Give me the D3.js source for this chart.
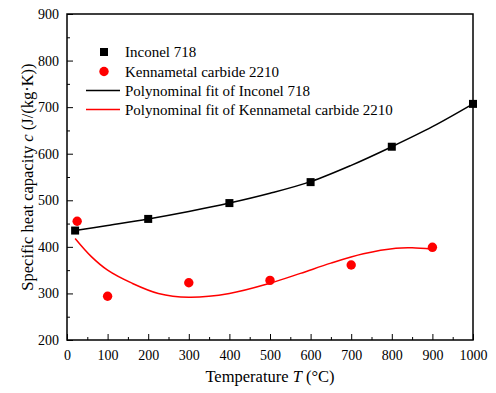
<!DOCTYPE html>
<html>
<head>
<meta charset="utf-8">
<script src="https://cdn.jsdelivr.net/npm/d3@7"></script>
<style>
  html, body { margin: 0; padding: 0; background: #fff; }
  svg { display: block; font-family: "Liberation Serif", "Times New Roman", serif; }
</style>
</head>
<body>
<div id="chart"></div>
<script>
// measured points
const inconelTemps = [20, 200, 400, 600, 800, 1000];
const inconelValues = [435, 460, 494, 539, 615, 707];
const kennaTemps = [25, 100, 300, 500, 700, 900];
const kennaValues = [455, 294, 323, 328, 361, 399];

// fit curves
const inconelFitTemps = [20, 100, 200, 300, 400, 500, 600, 700, 800, 900, 1000];
const inconelFitValues = [435, 446, 460, 476, 494, 515, 540, 575, 615, 658, 707];
const kennaFitTemps = [20, 60, 100, 160, 225, 300, 400, 500, 575, 650, 730, 810, 850, 900];
const kennaFitValues = [418, 379, 350, 322, 300, 292, 300, 322, 343, 365, 385, 397, 398, 395];

const xTicks = [0, 100, 200, 300, 400, 500, 600, 700, 800, 900, 1000];
const yTicks = [200, 300, 400, 500, 600, 700, 800, 900];

const legendLabels = [
  "Inconel 718",
  "Kennametal carbide 2210",
  "Polynominal fit of Inconel 718",
  "Polynominal fit of Kennametal carbide 2210"
];

const width = 496, height = 393;
const margin = { top: 14, right: 23, bottom: 53, left: 67 };

const svg = d3.select("#chart").append("svg")
  .attr("width", width)
  .attr("height", height);

const x = d3.scaleLinear().domain([0, 1000]).range([margin.left, width - margin.right]);
const y = d3.scaleLinear().domain([200, 900]).range([height - margin.bottom, margin.top]);

// minor ticks, inward
const xMinor = d3.range(50, 1000, 100);
const yMinor = d3.range(250, 900, 100);

svg.append("g")
  .attr("transform", `translate(0,${y(200)})`)
  .call(d3.axisBottom(x).tickValues(xMinor).tickSize(-3).tickFormat(""))
  .call(g => g.select(".domain").remove());
svg.append("g")
  .attr("transform", `translate(${x(0)},0)`)
  .call(d3.axisLeft(y).tickValues(yMinor).tickSize(-3).tickFormat(""))
  .call(g => g.select(".domain").remove());

const xAxis = svg.append("g")
  .attr("transform", `translate(0,${y(200)})`)
  .call(d3.axisBottom(x).tickValues(xTicks).tickSize(-6).tickPadding(10).tickFormat(d3.format("d")));
const yAxis = svg.append("g")
  .attr("transform", `translate(${x(0)},0)`)
  .call(d3.axisLeft(y).tickValues(yTicks).tickSize(-6).tickPadding(8).tickFormat(d3.format("d")));

[xAxis, yAxis].forEach(a => {
  a.select(".domain").remove();
  a.selectAll("text").attr("font-size", 14).attr("fill", "#000")
    .attr("font-family", "Liberation Serif, serif");
});
svg.selectAll(".tick line").attr("stroke", "#000").attr("stroke-width", 1);

// frame
svg.append("rect")
  .attr("x", x(0)).attr("y", y(900))
  .attr("width", x(1000) - x(0)).attr("height", y(200) - y(900))
  .attr("fill", "none").attr("stroke", "#000").attr("stroke-width", 1.5);

const line = d3.line().curve(d3.curveCatmullRom.alpha(0.5));

// fit lines
svg.append("path")
  .attr("d", line(inconelFitTemps.map((t, i) => [x(t), y(inconelFitValues[i])])))
  .attr("fill", "none").attr("stroke", "#000").attr("stroke-width", 1.5);
svg.append("path")
  .attr("d", line(kennaFitTemps.map((t, i) => [x(t), y(kennaFitValues[i])])))
  .attr("fill", "none").attr("stroke", "#ff0000").attr("stroke-width", 1.5);

// markers
svg.append("g").selectAll("rect")
  .data(inconelTemps)
  .join("rect")
  .attr("x", (d, i) => x(d) - 4)
  .attr("y", (d, i) => y(inconelValues[i]) - 4)
  .attr("width", 8).attr("height", 8)
  .attr("fill", "#000");
svg.append("g").selectAll("circle")
  .data(kennaTemps)
  .join("circle")
  .attr("cx", d => x(d))
  .attr("cy", (d, i) => y(kennaValues[i]))
  .attr("r", 4.7)
  .attr("fill", "#ff0000");

// legend
const legend = svg.append("g");
const rowY = [52, 71.5, 90.5, 109.5];
legend.append("rect").attr("x", 100).attr("y", rowY[0] - 4).attr("width", 8).attr("height", 8).attr("fill", "#000");
legend.append("circle").attr("cx", 104).attr("cy", rowY[1]).attr("r", 4.7).attr("fill", "#ff0000");
legend.append("line").attr("x1", 86).attr("x2", 120).attr("y1", rowY[2]).attr("y2", rowY[2])
  .attr("stroke", "#000").attr("stroke-width", 1.5);
legend.append("line").attr("x1", 86).attr("x2", 120).attr("y1", rowY[3]).attr("y2", rowY[3])
  .attr("stroke", "#ff0000").attr("stroke-width", 1.5);
legend.selectAll("text")
  .data(legendLabels)
  .join("text")
  .attr("x", 125)
  .attr("y", (d, i) => rowY[i] + 5)
  .attr("font-size", 15)
  .text(d => d);

// axis titles
const xTitle = svg.append("text")
  .attr("x", (x(0) + x(1000)) / 2)
  .attr("y", 382)
  .attr("text-anchor", "middle")
  .attr("font-size", 16.5);
xTitle.append("tspan").text("Temperature ");
xTitle.append("tspan").attr("font-style", "italic").text("T");
xTitle.append("tspan").text(" (°C)");

const yTitle = svg.append("text")
  .attr("transform", `translate(33,${(y(200) + y(900)) / 2}) rotate(-90)`)
  .attr("text-anchor", "middle")
  .attr("font-size", 16.5);
yTitle.append("tspan").text("Specific heat capacity ");
yTitle.append("tspan").attr("font-style", "italic").text("c");
yTitle.append("tspan").text(" (J/(kg·K))");
</script>
</body>
</html>
